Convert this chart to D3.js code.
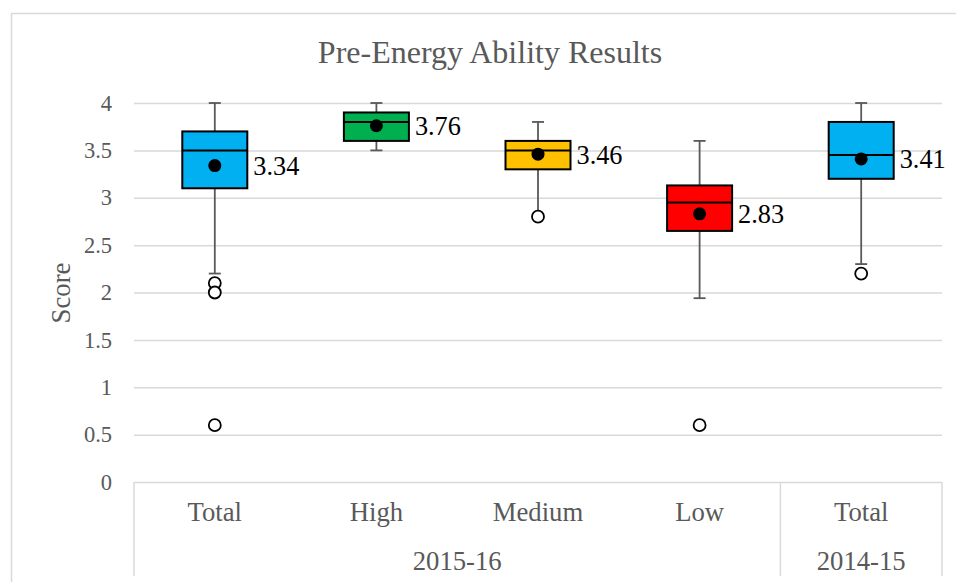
<!DOCTYPE html>
<html><head><meta charset="utf-8">
<script src="https://cdn.jsdelivr.net/npm/d3@7"></script>
<style>body{margin:0;background:#fff}svg{display:block}</style>
</head><body>
<svg id="chart" width="956" height="582"></svg>
<script>
const title = "Pre-Energy Ability Results";
const categories = ["Total", "High", "Medium", "Low", "Total"];
const groups = [{name: "2015-16", span: 4}, {name: "2014-15", span: 1}];
const whiskerLow = [2.2, 3.5, 2.8, 1.94, 2.3];
const q1 = [3.1, 3.6, 3.3, 2.65, 3.2];
const median = [3.5, 3.8, 3.5, 2.95, 3.45];
const q3 = [3.7, 3.9, 3.6, 3.13, 3.8];
const whiskerHigh = [4.0, 4.0, 3.8, 3.6, 4.0];
const means = [3.34, 3.76, 3.46, 2.83, 3.41];
const outliers = [[2.1, 2.0, 0.6], [], [2.8], [0.6], [2.2]];
const colors = ["#00B0F0", "#00B050", "#FFC000", "#FF0000", "#00B0F0"];
const yTicks = [0, 0.5, 1, 1.5, 2, 2.5, 3, 3.5, 4];

const svg = d3.select("#chart");
const font = "'Liberation Serif', 'Times New Roman', serif";
const L = 134, R = 942, T = 103, B = 482;

// outer frame
svg.append("rect").attr("x", 11.5).attr("y", 13.5).attr("width", 960).attr("height", 600)
  .attr("fill", "none").attr("stroke", "#d9d9d9").attr("stroke-width", 1.5);

const x = d3.scaleBand().domain(d3.range(categories.length)).range([L, R]).paddingInner(0).paddingOuter(0);
const y = d3.scaleLinear().domain([0, 4]).range([B, T]);

// title
svg.append("text").attr("x", 490).attr("y", 63).attr("text-anchor", "middle")
  .attr("font-family", font).attr("font-size", 32).attr("fill", "#595959").text(title);

// gridlines + y axis
const yAxis = d3.axisLeft(y).tickValues(yTicks).tickSize(-(R - L)).tickFormat(d => d3.format("")(d));
const gy = svg.append("g").attr("transform", `translate(${L},0)`).call(yAxis);
gy.select(".domain").remove();
gy.selectAll(".tick line").attr("stroke", "#d9d9d9").attr("stroke-width", 1.5);
gy.selectAll(".tick text").attr("x", -22).attr("font-family", font).attr("font-size", 22.5).attr("fill", "#595959");

// y label
svg.append("text").attr("transform", `translate(70,${293}) rotate(-90)`).attr("text-anchor", "middle")
  .attr("font-family", font).attr("font-size", 26.7).attr("fill", "#595959").text("Score");

// category axis box
const axisColor = "#d9d9d9";
svg.append("line").attr("x1", L).attr("x2", L).attr("y1", B).attr("y2", 576).attr("stroke", axisColor).attr("stroke-width", 1.5);
svg.append("line").attr("x1", R).attr("x2", R).attr("y1", B).attr("y2", 576).attr("stroke", axisColor).attr("stroke-width", 1.5);
let idx = 0;
groups.forEach((g, gi) => {
  const x0 = x(idx), x1 = x(idx + g.span - 1) + x.bandwidth();
  svg.append("text").attr("x", (x0 + x1) / 2).attr("y", 570).attr("text-anchor", "middle")
    .attr("font-family", font).attr("font-size", 26.7).attr("fill", "#595959").text(g.name);
  if (gi > 0) svg.append("line").attr("x1", x0).attr("x2", x0).attr("y1", B).attr("y2", 576).attr("stroke", axisColor).attr("stroke-width", 1.5);
  idx += g.span;
});
categories.forEach((c, i) => {
  svg.append("text").attr("x", x(i) + x.bandwidth() / 2).attr("y", 521).attr("text-anchor", "middle")
    .attr("font-family", font).attr("font-size", 26.7).attr("fill", "#595959").text(c);
});

// boxes
const bw = 65, cap = 12;
categories.forEach((c, i) => {
  const cx = x(i) + x.bandwidth() / 2;
  const g = svg.append("g");
  const wc = "#595959";
  g.append("line").attr("x1", cx).attr("x2", cx).attr("y1", y(whiskerHigh[i])).attr("y2", y(q3[i])).attr("stroke", wc).attr("stroke-width", 1.8);
  g.append("line").attr("x1", cx).attr("x2", cx).attr("y1", y(q1[i])).attr("y2", y(whiskerLow[i])).attr("stroke", wc).attr("stroke-width", 1.8);
  g.append("line").attr("x1", cx - cap / 2).attr("x2", cx + cap / 2).attr("y1", y(whiskerHigh[i])).attr("y2", y(whiskerHigh[i])).attr("stroke", wc).attr("stroke-width", 1.8);
  g.append("line").attr("x1", cx - cap / 2).attr("x2", cx + cap / 2).attr("y1", y(whiskerLow[i])).attr("y2", y(whiskerLow[i])).attr("stroke", wc).attr("stroke-width", 1.8);
  g.append("rect").attr("x", cx - bw / 2).attr("y", y(q3[i])).attr("width", bw).attr("height", y(q1[i]) - y(q3[i]))
    .attr("fill", colors[i]).attr("stroke", "#000").attr("stroke-width", 2);
  g.append("line").attr("x1", cx - bw / 2).attr("x2", cx + bw / 2).attr("y1", y(median[i])).attr("y2", y(median[i])).attr("stroke", "#000").attr("stroke-width", 2);
  g.append("circle").attr("cx", cx).attr("cy", y(means[i])).attr("r", 6.5).attr("fill", "#000");
  outliers[i].forEach(o => {
    g.append("circle").attr("cx", cx).attr("cy", y(o)).attr("r", 6).attr("fill", "#fff").attr("stroke", "#000").attr("stroke-width", 1.8);
  });
  g.append("text").attr("x", cx + bw / 2 + 6).attr("y", y(means[i])).attr("dy", "0.36em")
    .attr("font-family", font).attr("font-size", 26.3).attr("fill", "#000").text(d3.format(".2f")(means[i]));
});
</script>
</body></html>
